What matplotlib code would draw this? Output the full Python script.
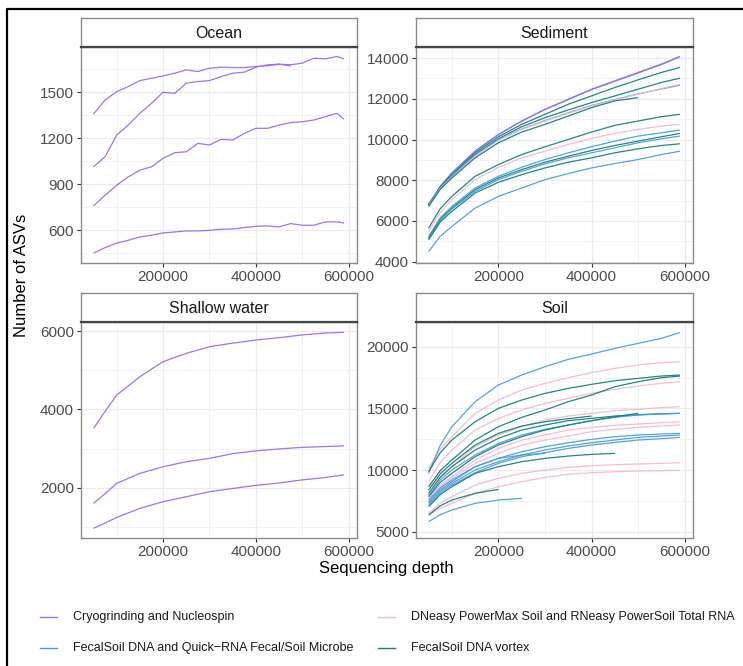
import matplotlib
matplotlib.use("Agg")
import matplotlib.pyplot as plt
from matplotlib.lines import Line2D
from matplotlib.ticker import MultipleLocator, FixedLocator

plt.rcParams['font.family'] = ['Liberation Sans', 'DejaVu Sans']

# ---------------- data ----------------
methods = ["Cryogrinding and Nucleospin",
           "DNeasy PowerMax Soil and RNeasy PowerSoil Total RNA",
           "FecalSoil DNA and Quick\u2212RNA Fecal/Soil Microbe",
           "FecalSoil DNA vortex"]
method_colors = ["#9B6CF2", "#F6B9D2", "#4A9FE0", "#17807C"]

facets = ["Ocean", "Sediment", "Shallow water", "Soil"]

# Ocean (fine depth grid)
ocean_x = [50000, 75000, 100000, 125000, 150000, 175000, 200000, 225000, 250000,
           275000, 300000, 325000, 350000, 375000, 400000, 425000, 450000, 475000,
           500000, 525000, 550000, 575000, 590000]
ocean_a = [1358, 1450, 1504, 1537, 1576, 1591, 1607, 1624, 1646, 1635, 1657, 1663,
           1661, 1661, 1668, 1672, 1683, 1672]
ocean_b = [1014, 1080, 1221, 1287, 1363, 1428, 1500, 1493, 1559, 1570, 1576, 1602,
           1624, 1631, 1663, 1679, 1683, 1679, 1690, 1722, 1718, 1733, 1718]
ocean_c = [759, 829, 894, 949, 992, 1014, 1069, 1106, 1112, 1167, 1156, 1193, 1188,
           1232, 1265, 1265, 1286, 1302, 1308, 1319, 1341, 1363, 1324]
ocean_d = [452, 487, 517, 535, 557, 568, 583, 589, 596, 596, 600, 607, 609, 618, 626,
           629, 622, 644, 633, 633, 655, 655, 648]
ocean_lines = [(0, ocean_a), (0, ocean_b), (0, ocean_c), (0, ocean_d)]

# common depth grid for the other facets
depth = [50000, 75000, 100000, 150000, 200000, 250000, 300000, 350000, 400000,
         450000, 500000, 550000, 590000]

shallow_x = [50000, 75000, 100000, 150000, 200000, 250000, 300000, 350000, 400000,
             450000, 500000, 550000, 590000]
shallow_1 = [3515, 3950, 4366, 4834, 5217, 5430, 5600, 5690, 5770, 5830, 5900, 5950, 5966]
shallow_2 = [1600, 1850, 2111, 2366, 2536, 2664, 2749, 2870, 2940, 2990, 3030, 3050, 3070]
shallow_3 = [962, 1100, 1240, 1472, 1643, 1770, 1898, 1980, 2060, 2120, 2200, 2260, 2330]
shallow_lines = [(0, shallow_1), (0, shallow_2), (0, shallow_3)]

sediment_lines = [
    (2, [6796, 7700, 8359, 9428, 10250, 10908, 11484, 11977, 12470, 12882, 13293, 13704, 14082]),
    (0, [6790, 7690, 8350, 9420, 10240, 10900, 11470, 11960, 12450, 12860, 13270, 13680, 14060]),
    (3, [6796, 7660, 8277, 9346, 10135, 10743, 11237, 11730, 12141, 12553, 12931, 13293, 13539]),
    (3, [6747, 7600, 8194, 9263, 10036, 10628, 11072, 11451, 11813, 12141, 12470, 12800, 13013]),
    (2, [6829, 7620, 8180, 9200, 9970, 10520, 10930, 11310, 11670, 11960, 12240, 12480, 12668]),
    (1, [6714, 7580, 8161, 9181, 9954, 10497, 10908, 11286, 11648, 11944, 12224, 12503, 12717]),
    (3, [6714, 7550, 8112, 9099, 9839, 10365, 10743, 11154, 11566, 11895, 12059]),
    (3, [5645, 6600, 7208, 8194, 8770, 9263, 9642, 10003, 10365, 10694, 10908, 11122, 11237]),
    (1, [5480, 6420, 7043, 8030, 8638, 9099, 9428, 9757, 10053, 10300, 10497, 10661, 10743]),
    (2, [5234, 6150, 6714, 7619, 8194, 8638, 9017, 9346, 9642, 9921, 10168, 10332, 10464]),
    (3, [5151, 6080, 6632, 7537, 8112, 8523, 8885, 9181, 9461, 9707, 9921, 10135, 10300]),
    (2, [5102, 6030, 6582, 7454, 8030, 8441, 8803, 9099, 9346, 9593, 9839, 10036, 10168]),
    (3, [5069, 5950, 6467, 7372, 7898, 8276, 8605, 8885, 9099, 9346, 9543, 9707, 9789]),
    (2, [4493, 5250, 5727, 6632, 7208, 7619, 8030, 8326, 8605, 8819, 9017, 9263, 9428]),
]

soil_lines = [
    (1, [10135, 11700, 12703, 14595, 15676, 16486, 17027, 17486, 17892, 18243, 18514, 18703, 18784]),
    (1, [9054, 10600, 11622, 13243, 14189, 14865, 15405, 15811, 16216, 16540, 16811, 17027, 17162]),
    (1, [8378, 9500, 10270, 11892, 12838, 13514, 14054, 14378, 14595, 14811, 14919, 15054, 15135]),
    (1, [7838, 8800, 9460, 10811, 11757, 12432, 12838, 13243, 13459, 13622, 13730, 13838, 13919]),
    (1, [7703, 8680, 9324, 10540, 11351, 12027, 12432, 12757, 13108, 13297, 13459, 13568, 13649]),
    (1, [6486, 7300, 7838, 8784, 9324, 9730, 10000, 10216, 10351, 10432, 10486, 10540, 10595]),
    (1, [6351, 6900, 7297, 8108, 8649, 9054, 9405, 9649, 9784, 9865, 9919, 9946, 9973]),
    (2, [9730, 12000, 13513, 15540, 16892, 17703, 18378, 18973, 19405, 19865, 20270, 20676, 21150]),
    (3, [9865, 11400, 12432, 13919, 15000, 15676, 16216, 16622, 16946, 17243, 17432, 17622, 17703]),
    (3, [8650, 9950, 10811, 12432, 13514, 14270, 14865, 15540, 16081, 16757, 17162, 17486, 17622]),
    (3, [8108, 9400, 10270, 11622, 12568, 13243, 13649, 14000, 14189, 14378, 14486, 14568, 14595]),
    (2, [7973, 9200, 10000, 11216, 12162, 12838, 13297, 13649, 14000, 14270, 14459, 14541, 14595]),
    (3, [8378, 9700, 10540, 12027, 12973, 13568, 13919, 14162, 14378]),
    (3, [7838, 9000, 9730, 11081, 12027, 12703, 13243, 13649, 14000, 14324, 14595]),
    (2, [7568, 8550, 9189, 10270, 10946, 11486, 11892, 12216, 12486, 12703, 12838, 12919, 12973]),
    (2, [7297, 8280, 8919, 10000, 10676, 11216, 11622, 11946, 12216, 12432, 12649, 12757, 12838]),
    (2, [7162, 8150, 8784, 9784, 10540, 11081, 11405, 11757, 12027, 12243, 12432, 12541, 12649]),
    (2, [7432, 8400, 9054, 10270, 10946, 11216, 11351]),
    (3, [7027, 8000, 8649, 9730, 10270, 10676, 10946, 11135, 11270, 11351]),
    (3, [6351, 7100, 7568, 8108, 8432]),
    (2, [5811, 6380, 6757, 7297, 7568, 7703]),
]

x_ticks = [200000, 400000, 600000]
y_ticks = {"Ocean": [600, 900, 1200, 1500],
           "Sediment": [4000, 6000, 8000, 10000, 12000, 14000],
           "Shallow water": [2000, 4000, 6000],
           "Soil": [5000, 10000, 15000, 20000]}
y_limits = {"Ocean": (387, 1795), "Sediment": (3936, 14543),
            "Shallow water": (716, 6230), "Soil": (4489, 22003)}

# ---------------- layout ----------------
W, H = 743, 666
fig = plt.figure(figsize=(W / 100, H / 100), dpi=100)


def fr(x0, y0, x1, y1):
    """pixel box (top-left origin) -> figure fraction rect"""
    return [x0 / W, 1 - y1 / H, (x1 - x0) / W, (y1 - y0) / H]


panel_px = {"Ocean": (81, 47, 357, 263), "Sediment": (416, 47, 693, 263),
            "Shallow water": (81, 322, 357, 538), "Soil": (416, 322, 693, 538)}
strip_h = 29

data_map = {"Ocean": [(m, ocean_x, v) for m, v in ocean_lines],
            "Shallow water": [(m, shallow_x, v) for m, v in shallow_lines],
            "Sediment": [(m, depth, v) for m, v in sediment_lines],
            "Soil": [(m, depth, v) for m, v in soil_lines]}

grid_c = "#EBEBEB"
for name in facets:
    x0, y0, x1, y1 = panel_px[name]
    ax = fig.add_axes(fr(x0, y0, x1, y1))
    for m, xs, ys in data_map[name]:
        ax.plot(xs[:len(ys)], ys, color=method_colors[m], lw=0.9, alpha=0.95,
                solid_capstyle="butt")
    ax.set_xlim(23000, 618000)
    ax.set_ylim(*y_limits[name])
    ax.xaxis.set_major_locator(FixedLocator(x_ticks))
    ax.xaxis.set_minor_locator(FixedLocator([100000, 300000, 500000]))
    yt = y_ticks[name]
    step = yt[1] - yt[0]
    ax.yaxis.set_major_locator(FixedLocator(yt))
    ax.yaxis.set_minor_locator(MultipleLocator(step / 2))
    ax.grid(which="major", color=grid_c, lw=0.9, zorder=0)
    ax.grid(which="minor", color=grid_c, lw=0.45, zorder=0)
    ax.set_axisbelow(True)
    ax.tick_params(which="major", length=3, width=0.8, color="#333333",
                   labelsize=11, labelcolor="#4D4D4D", pad=2)
    ax.tick_params(which="minor", length=0)
    for s in ax.spines.values():
        s.set_color("#8C8C8C")
        s.set_linewidth(1.0)

    # strip
    sax = fig.add_axes(fr(x0, y0 - strip_h, x1, y0))
    sax.set_xticks([])
    sax.set_yticks([])
    sax.set_facecolor("white")
    for k, s in sax.spines.items():
        s.set_color("#8C8C8C")
        s.set_linewidth(1.0)
    sax.spines["bottom"].set_color("#444444")
    sax.spines["bottom"].set_linewidth(1.6)
    sax.text(0.5, 0.47, name, ha="center", va="center", fontsize=11.5,
             color="#1A1A1A", transform=sax.transAxes)

# axis titles
fig.text(386 / W, 1 - 568 / H, "Sequencing depth", ha="center", va="center",
         fontsize=12, color="black")
fig.text(22 / W, 1 - 275 / H, "Number of ASVs", ha="center", va="center",
         rotation=90, fontsize=12, color="black")

# legend (manual, 2 x 2)
leg_pos = [(40, 617), (378, 617), (40, 648), (378, 648)]
for m, (lx, ly) in enumerate(leg_pos):
    fig.add_artist(Line2D([lx / W, (lx + 17) / W], [1 - ly / H, 1 - ly / H],
                          color=method_colors[m], lw=1.0))
    fig.text((lx + 33) / W, 1 - ly / H, methods[m], ha="left", va="center",
             fontsize=9, color="#1A1A1A")

# outer frame (left and top edges)
fig.add_artist(Line2D([7 / W, 7 / W, 1.0], [0.0, 1 - 9 / H, 1 - 9 / H],
                      color="black", lw=1.6))

fig.savefig("out.png", dpi=100, facecolor="white")
